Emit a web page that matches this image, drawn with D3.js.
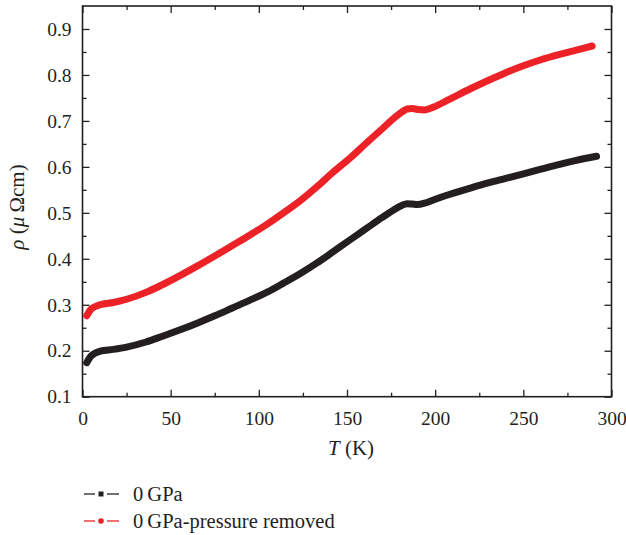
<!DOCTYPE html>
<html>
<head>
<meta charset="utf-8">
<script src="https://cdn.jsdelivr.net/npm/d3@7"></script>
<style>
  body { margin: 0; background: #fff; }
  svg text { font-family: "Liberation Serif", "DejaVu Serif", serif; fill: #231f20; }
</style>
</head>
<body>
<div class="chart"></div>
<script>
// temperature (K) and resistivity (micro-ohm cm)
const tBlack = [2.4, 5, 10, 17.5, 25, 36, 45, 55, 65, 75, 85, 95, 105, 114, 124, 133, 142, 152, 161, 170,
  176, 181, 184, 187, 190, 194, 199, 208, 220, 230, 240, 250, 260, 270, 280, 291.5];
const rhoBlack = [0.174, 0.189, 0.199, 0.203, 0.208, 0.219, 0.231, 0.245, 0.260, 0.276, 0.293, 0.310, 0.328,
  0.347, 0.369, 0.391, 0.415, 0.442, 0.466, 0.490, 0.505, 0.516, 0.520, 0.519, 0.518, 0.521, 0.528, 0.540,
  0.554, 0.565, 0.575, 0.585, 0.595, 0.605, 0.614, 0.623];

const tRed = [2.4, 5, 10, 17.5, 25, 36, 45, 55, 65, 75, 85, 95, 105, 114, 124, 133, 142, 152, 161, 170,
  176, 181, 184, 187, 190, 194, 199, 208, 220, 230, 240, 250, 260, 270, 280, 289];
const rhoRed = [0.276, 0.291, 0.300, 0.305, 0.312, 0.327, 0.343, 0.363, 0.384, 0.406, 0.429, 0.452, 0.476,
  0.500, 0.528, 0.557, 0.588, 0.620, 0.652, 0.683, 0.704, 0.719, 0.726, 0.727, 0.725, 0.724, 0.730, 0.747,
  0.770, 0.788, 0.805, 0.820, 0.833, 0.844, 0.854, 0.863];

const xTicks = [0, 50, 100, 150, 200, 250, 300];
const yTicks = [0.1, 0.2, 0.3, 0.4, 0.5, 0.6, 0.7, 0.8, 0.9];
const seriesNames = ["0\u2009GPa", "0\u2009GPa-pressure removed"];

const w = 626, h = 535;
const plotL = 82.5, plotR = 611.5, plotT = 6, plotB = 396.7;
const ink = "#231f20", red = "#ec2227";

const svg = d3.select(".chart").append("svg").attr("width", w).attr("height", h);
svg.append("rect").attr("width", w).attr("height", h).attr("fill", "#fff");

const x = d3.scaleLinear().domain([0, 300]).range([plotL, plotR]);
const y = d3.scaleLinear().domain([0.1, 0.95]).range([plotB, plotT]);

const minorX = d3.range(25, 300, 50);
const minorY = d3.range(0.15, 0.95, 0.1);

function styleAxis(g) {
  g.select(".domain").remove();
  g.selectAll("line").attr("stroke", ink).attr("stroke-width", 1.3);
  g.selectAll("text").attr("font-size", 19.5).attr("fill", ink);
}

// bottom: major ticks + labels, inward
svg.append("g").attr("transform", `translate(0,${plotB})`)
  .call(d3.axisBottom(x).tickValues(xTicks).tickSize(-7).tickPadding(14).tickFormat(d3.format("d")))
  .call(styleAxis);
svg.append("g").attr("transform", `translate(0,${plotB})`)
  .call(d3.axisBottom(x).tickValues(minorX).tickSize(-4).tickFormat(""))
  .call(styleAxis);
// top mirrored
svg.append("g").attr("transform", `translate(0,${plotT})`)
  .call(d3.axisTop(x).tickValues(xTicks).tickSize(-7).tickFormat(""))
  .call(styleAxis);
svg.append("g").attr("transform", `translate(0,${plotT})`)
  .call(d3.axisTop(x).tickValues(minorX).tickSize(-4).tickFormat(""))
  .call(styleAxis);
// left
svg.append("g").attr("transform", `translate(${plotL},0)`)
  .call(d3.axisLeft(y).tickValues(yTicks).tickSize(-7).tickPadding(11).tickFormat(d3.format(".1f")))
  .call(styleAxis);
svg.append("g").attr("transform", `translate(${plotL},0)`)
  .call(d3.axisLeft(y).tickValues(minorY).tickSize(-4).tickFormat(""))
  .call(styleAxis);
// right mirrored
svg.append("g").attr("transform", `translate(${plotR},0)`)
  .call(d3.axisRight(y).tickValues(yTicks).tickSize(-7).tickFormat(""))
  .call(styleAxis);
svg.append("g").attr("transform", `translate(${plotR},0)`)
  .call(d3.axisRight(y).tickValues(minorY).tickSize(-4).tickFormat(""))
  .call(styleAxis);

// frame
svg.append("rect")
  .attr("x", plotL).attr("y", plotT)
  .attr("width", plotR - plotL).attr("height", plotB - plotT)
  .attr("fill", "none").attr("stroke", ink).attr("stroke-width", 1.6);

// curves
const line = d3.line()
  .x((d) => x(d[0]))
  .y((d) => y(d[1]))
  .curve(d3.curveMonotoneX);

const series = [
  { t: tBlack, v: rhoBlack, color: ink },
  { t: tRed, v: rhoRed, color: red },
];

series.forEach((s) => {
  svg.append("path")
    .datum(s.t.map((t, i) => [t, s.v[i]]))
    .attr("d", line)
    .attr("fill", "none")
    .attr("stroke", s.color)
    .attr("stroke-width", 7)
    .attr("stroke-linecap", "round")
    .attr("stroke-linejoin", "round");
});

// axis titles
const xt = svg.append("text")
  .attr("x", 351).attr("y", 455)
  .attr("text-anchor", "middle")
  .attr("font-size", 21);
xt.append("tspan").attr("font-style", "italic").text("T");
xt.append("tspan").text(" (K)");

const yt = svg.append("text")
  .attr("transform", "translate(24,207) rotate(-90)")
  .attr("text-anchor", "middle")
  .attr("font-size", 21);
yt.append("tspan").attr("font-style", "italic").text("ρ");
yt.append("tspan").text(" (");
yt.append("tspan").attr("font-style", "italic").text("μ");
yt.append("tspan").text("\u2009Ωcm)");

// legend
const legend = svg.append("g");
const legendY = [494, 521];
series.forEach((s, i) => {
  const g = legend.append("g").attr("transform", `translate(0,${legendY[i]})`);
  g.append("line").attr("x1", 84).attr("x2", 95).attr("stroke", s.color).attr("stroke-width", 1.3);
  g.append("line").attr("x1", 107).attr("x2", 119).attr("stroke", s.color).attr("stroke-width", 1.3);
  if (i === 0) {
    g.append("rect").attr("x", 98.5).attr("y", -2.5).attr("width", 5).attr("height", 5).attr("fill", s.color);
  } else {
    g.append("circle").attr("cx", 101).attr("cy", 0).attr("r", 2.8).attr("fill", s.color);
  }
  g.append("text").attr("x", 133).attr("y", 7).attr("font-size", 20.5).text(seriesNames[i]);
});
</script>
</body>
</html>
